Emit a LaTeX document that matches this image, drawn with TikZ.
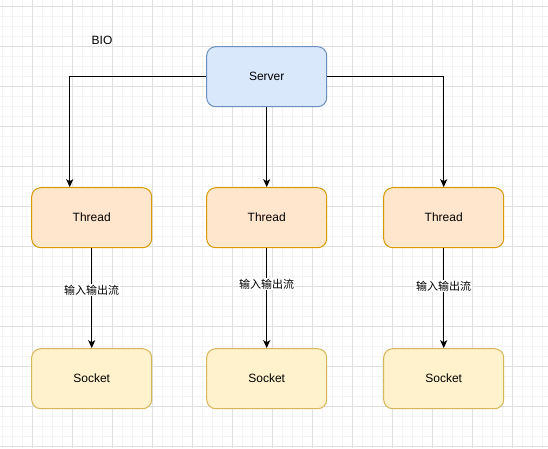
\documentclass[tikz,border=0pt]{standalone}
\usepackage{fontspec}
\setmainfont{Liberation Sans}
\newfontfamily\cjkfont{Noto Sans CJK SC}
\usetikzlibrary{positioning,arrows.meta}

\begin{document}
\begin{tikzpicture}[x=1pt, y=-1pt, node distance=80pt,
  box/.style={draw, rounded corners=9pt, minimum width=120pt, minimum height=60pt, line width=1pt, font=\fontsize{12}{14}\selectfont},
  flow/.style={-{Stealth[length=8pt,width=7pt,inset=2pt]}, line width=1pt},
  stream/.style={fill=white, inner sep=1pt, font=\cjkfont\fontsize{11}{13}\selectfont}]
  \definecolor{server fill}{HTML}{DAE8FC}
  \definecolor{server line}{HTML}{6C8EBF}
  \definecolor{thread fill}{HTML}{FFE6CC}
  \definecolor{thread line}{HTML}{D79B00}
  \definecolor{socket fill}{HTML}{FFF2CC}
  \definecolor{socket line}{HTML}{D6B656}
  \definecolor{grid minor}{HTML}{F3F3F3}
  \definecolor{grid major}{HTML}{E0E0E0}
  \useasboundingbox[fill=white] (0,0) rectangle (548,448);
  % grid
  \foreach \gx in {2,12,...,542} \draw[grid minor, line width=0.8pt] (\gx,0) -- (\gx,448);
  \foreach \gy in {6,16,...,446} \draw[grid minor, line width=0.8pt] (0,\gy) -- (548,\gy);
  \foreach \gx in {32,72,...,512} \draw[grid major, line width=0.8pt] (\gx,0) -- (\gx,448);
  \foreach \gy in {6,46,...,446} \draw[grid major, line width=0.8pt] (0,\gy) -- (548,\gy);

  \node[font=\fontsize{12}{14}\selectfont] (bio) at (102,40.7) {BIO};
  \node[box, draw=server line, fill=server fill] (server) at (266.7,76.7) {Server};
  \node[box, draw=thread line, fill=thread fill, below=80pt of server] (thread2) {Thread};
  \node[box, draw=thread line, fill=thread fill, left=54pt of thread2] (thread1) {Thread};
  \node[box, draw=thread line, fill=thread fill, right=56pt of thread2] (thread3) {Thread};
  \foreach \i/\p in {1/0.42, 2/0.36, 3/0.38} {
    \node[box, draw=socket line, fill=socket fill, below=100pt of thread\i] (socket\i) {Socket};
    \draw[flow] (thread\i) -- (socket\i) node[stream, pos=\p] {输入输出流};
  }

  \draw[flow] (server.west) -| ([xshift=-22pt]thread1.north);
  \draw[flow] (server) -- (thread2);
  \draw[flow] (server.east) -| (thread3.north);
\end{tikzpicture}
\end{document}
